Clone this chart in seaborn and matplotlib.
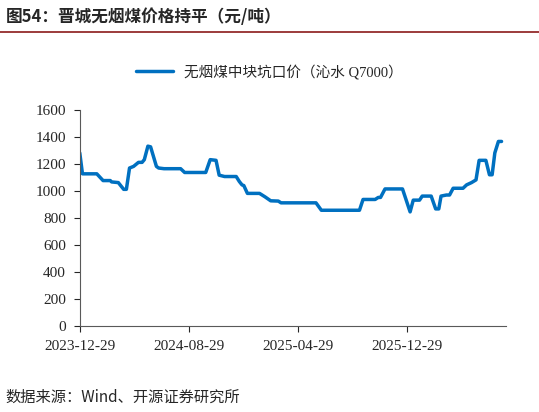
import matplotlib
matplotlib.use("Agg")
import matplotlib.pyplot as plt
import seaborn as sns
import pandas as pd

start_date = "2023-12-29"
day_offsets = [0, 6, 38, 52, 68, 71, 86, 98, 104, 111, 120, 131, 139, 144, 152, 158,
               171, 176, 188, 225, 234, 281, 291, 304, 311, 323, 349, 356, 362, 366,
               374, 401, 413, 426, 443, 449, 527, 539, 624, 632, 659, 666, 671, 681,
               720, 737, 744, 758, 764, 784, 794, 801, 806, 818, 825, 833, 855, 863,
               874, 884, 891, 906, 914, 920, 926, 934, 941]
price = [1282, 1127, 1127, 1077, 1077, 1067, 1062, 1012, 1012, 1170, 1182, 1212, 1212,
         1232, 1332, 1327, 1182, 1170, 1165, 1165, 1137, 1137, 1232, 1227, 1117, 1107,
         1107, 1070, 1045, 1040, 982, 982, 957, 927, 925, 912, 912, 857, 857, 937, 937,
         952, 952, 1015, 1015, 845, 932, 932, 962, 962, 867, 867, 962, 970, 970, 1020,
         1020, 1045, 1062, 1082, 1227, 1227, 1120, 1120, 1282, 1367, 1367]
tick_labels = ["2023-12-29", "2024-08-29", "2025-04-29", "2025-12-29"]
series_name = "无烟煤中块坑口价（沁水 Q7000）"

df = pd.DataFrame({"date": pd.Timestamp(start_date) + pd.to_timedelta(day_offsets, unit="D"),
                   "price": price})

sns.set_style("ticks")
plt.rcParams["font.family"] = ["Liberation Serif", "Noto Sans CJK SC", "DejaVu Sans"]

fig = plt.figure(figsize=(5.39, 4.12), dpi=100)
ax = fig.add_axes([0.148, 0.209, 0.79, 0.524])
sns.lineplot(data=df, x="date", y="price", color="#0070C0", linewidth=2.5, ax=ax,
             label=series_name)

ax.set_ylim(0, 1600)
ax.set_yticks(range(0, 1601, 200))
ax.set_xlim(pd.Timestamp(start_date), pd.Timestamp(start_date) + pd.Timedelta(days=950))
ax.set_xticks(pd.to_datetime(tick_labels))
ax.set_xticklabels(tick_labels)
ax.set_xlabel("")
ax.set_ylabel("")
ax.tick_params(labelsize=11, length=4, direction="out", pad=6)
for s in ["top", "right"]:
    ax.spines[s].set_visible(False)
for s in ["left", "bottom"]:
    ax.spines[s].set_color("#595959")

ax.legend(loc="center", bbox_to_anchor=(0.5, 0.825), bbox_transform=fig.transFigure,
          frameon=False, fontsize=10.5, handlelength=2.5)

fig.text(0.01, 0.958, "图54：晋城无烟煤价格持平（元/吨）", fontsize=12, fontweight="bold",
         va="center", family=["Noto Sans CJK SC", "DejaVu Sans"])
fig.add_artist(plt.Line2D([0.0, 1.0], [0.922, 0.922], color="#8B1A1A", linewidth=1.2))
fig.text(0.01, 0.035, "数据来源：Wind、开源证券研究所", fontsize=11, va="center",
         family=["Noto Sans CJK SC", "DejaVu Sans"])

fig.savefig("out.png", dpi=100)
